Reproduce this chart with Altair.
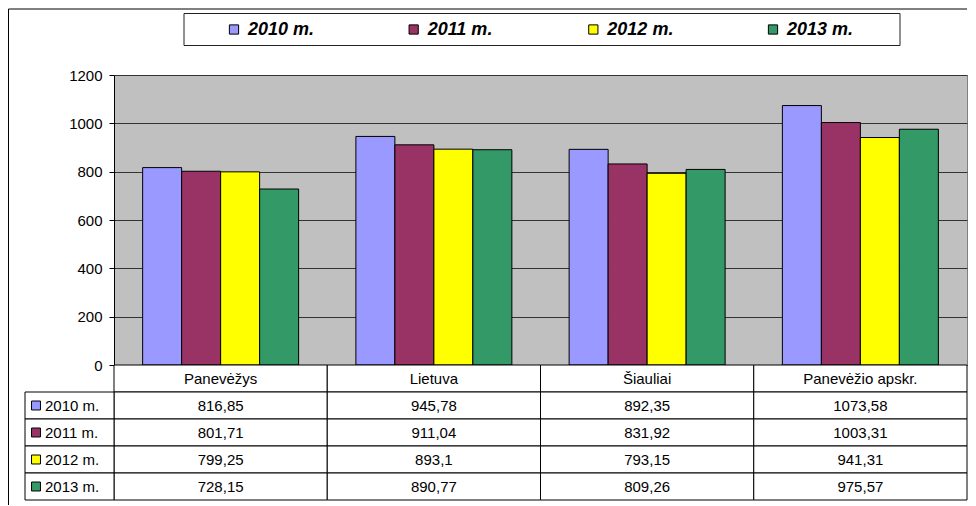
import altair as alt
import pandas as pd

categories = ["Panevėžys", "Lietuva", "Šiauliai", "Panevėžio apskr."]
years = ["2010 m.", "2011 m.", "2012 m.", "2013 m."]
v2010 = [816.85, 945.78, 892.35, 1073.58]
v2011 = [801.71, 911.04, 831.92, 1003.31]
v2012 = [799.25, 893.1, 793.15, 941.31]
v2013 = [728.15, 890.77, 809.26, 975.57]
colors = ["#9999FF", "#993366", "#FFFF00", "#339966"]
y_ticks = [0, 200, 400, 600, 800, 1000, 1200]

series = [v2010, v2011, v2012, v2013]
rows = ["hdr"] + years

FONT = "Liberation Sans"
W, H = 853, 290

# long data for bars
bar_rows = []
for y, vals in zip(years, series):
    for c, v in zip(categories, vals):
        bar_rows.append({"category": c, "year": y, "value": v,
                         "label": repr(v).replace(".", ",")})
bars_df = pd.DataFrame(bar_rows)

# table cells (header + values)
cell_rows = []
for c in categories:
    cell_rows.append({"category": c, "row": "hdr", "label": c})
for r in bar_rows:
    cell_rows.append({"category": r["category"], "row": r["year"], "label": r["label"]})
cells_df = pd.DataFrame(cell_rows)

key_df = pd.DataFrame({"key": ["key"] * 4, "row": years, "year": years, "box": ["box"] * 4})
frame_df = pd.DataFrame({"f": [0]})

cat_scale = alt.Scale(domain=categories, paddingInner=0, paddingOuter=0)
row_scale = alt.Scale(domain=rows, range=[290, 425], paddingInner=0, paddingOuter=0)
key_scale = alt.Scale(domain=["key"], range=[-89, 0], paddingInner=0, paddingOuter=0)
key_mark_scale = alt.Scale(type="point", domain=["key"], range=[-78, -78], padding=0)
color_scale = alt.Scale(domain=years, range=colors)
leg_x_scale = alt.Scale(domain=years, range=[70, 786], paddingInner=0, paddingOuter=0)
leg_mark_scale = alt.Scale(type="point", domain=years, range=[120, 659], padding=0)
leg_y_scale = alt.Scale(domain=["box"], range=[-61.5, -29.5], paddingInner=0, paddingOuter=0)
frame_x = alt.Scale(domain=[0, 1], range=[-105.5, 853])
frame_y = alt.Scale(domain=[0, 1], range=[-66, 430])

bars = alt.Chart(bars_df).mark_bar(stroke="black", strokeWidth=1).encode(
    x=alt.X("category:N", scale=cat_scale, axis=None, sort=categories),
    xOffset=alt.XOffset("year:N", scale=alt.Scale(domain=years, paddingInner=0, paddingOuter=0.734)),
    y=alt.Y("value:Q", scale=alt.Scale(domain=[0, 1200], nice=False),
            axis=alt.Axis(values=y_ticks, grid=True, gridColor="#333333", gridWidth=1,
                          domainColor="black", tickColor="black", tickSize=5, format="d",
                          labelFont=FONT, labelFontSize=15, labelColor="black",
                          labelPadding=7, title=None)),
    color=alt.Color("year:N", scale=color_scale, legend=None),
)

cells = alt.Chart(cells_df).mark_rect(fill="white", stroke="black", strokeWidth=1).encode(
    x=alt.X("category:N", scale=cat_scale, axis=None, sort=categories),
    y=alt.Y("row:N", scale=row_scale, axis=None, sort=rows),
)

cell_text = alt.Chart(cells_df).mark_text(font=FONT, fontSize=15, color="black",
                                          baseline="middle", align="center").encode(
    x=alt.X("category:N", scale=cat_scale, axis=None, sort=categories),
    y=alt.Y("row:N", scale=row_scale, axis=None, sort=rows),
    text="label:N",
)

key_cells = alt.Chart(key_df).mark_rect(fill="white", stroke="black", strokeWidth=1).encode(
    x=alt.X("key:N", scale=key_scale, axis=None),
    y=alt.Y("row:N", scale=row_scale, axis=None, sort=rows),
)

key_sq = alt.Chart(key_df).mark_point(shape="square", filled=True, size=80, stroke="black",
                                      strokeWidth=1, opacity=1).encode(
    x=alt.X("key:N", scale=key_mark_scale, axis=None),
    y=alt.Y("row:N", scale=row_scale, axis=None, sort=rows),
    color=alt.Color("year:N", scale=color_scale, legend=None),
)

key_text = alt.Chart(key_df).mark_text(font=FONT, fontSize=15, color="black",
                                       align="left", baseline="middle", dx=9).encode(
    x=alt.X("key:N", scale=key_mark_scale, axis=None),
    y=alt.Y("row:N", scale=row_scale, axis=None, sort=rows),
    text="year:N",
)

leg_box = alt.Chart(frame_df).mark_rect(fill="white", stroke="#222222", strokeWidth=1).encode(
    x=alt.X(datum="2010 m.", scale=leg_x_scale, axis=None, bandPosition=0),
    x2=alt.X2(datum="2013 m.", bandPosition=1),
    y=alt.Y(datum="box", scale=leg_y_scale, axis=None, bandPosition=0),
    y2=alt.Y2(datum="box", bandPosition=1),
)

leg_sq = alt.Chart(key_df).mark_point(shape="square", filled=True, size=85, stroke="black",
                                      strokeWidth=1, opacity=1).encode(
    x=alt.X("year:N", scale=leg_mark_scale, axis=None),
    y=alt.Y("box:N", scale=leg_y_scale, axis=None),
    color=alt.Color("year:N", scale=color_scale, legend=None),
)

leg_text = alt.Chart(key_df).mark_text(font=FONT, fontSize=18, fontWeight="bold",
                                       fontStyle="italic", color="black",
                                       align="left", baseline="middle", dx=14).encode(
    x=alt.X("year:N", scale=leg_mark_scale, axis=None),
    y=alt.Y("box:N", scale=leg_y_scale, axis=None),
    text="year:N",
)

frame_top = alt.Chart(frame_df).mark_rule(color="black", strokeWidth=1).encode(
    x=alt.X(datum=0, scale=frame_x, axis=None),
    x2=alt.X2(datum=1),
    y=alt.Y(datum=0, scale=frame_y, axis=None),
)
frame_left = alt.Chart(frame_df).mark_rule(color="black", strokeWidth=1).encode(
    x=alt.X(datum=0, scale=frame_x, axis=None),
    y=alt.Y(datum=0, scale=frame_y, axis=None),
    y2=alt.Y2(datum=1),
)

chart = alt.layer(
    bars, cells, cell_text, key_cells, key_sq, key_text,
    leg_box, leg_sq, leg_text, frame_top, frame_left,
).resolve_scale(
    x="independent", y="independent"
).properties(
    width=W, height=H, padding=0, background="white"
).configure_view(
    fill="#C0C0C0", stroke="#808080", strokeWidth=1
)

chart.save("out.html", embed_options={"renderer": "svg", "actions": False})
